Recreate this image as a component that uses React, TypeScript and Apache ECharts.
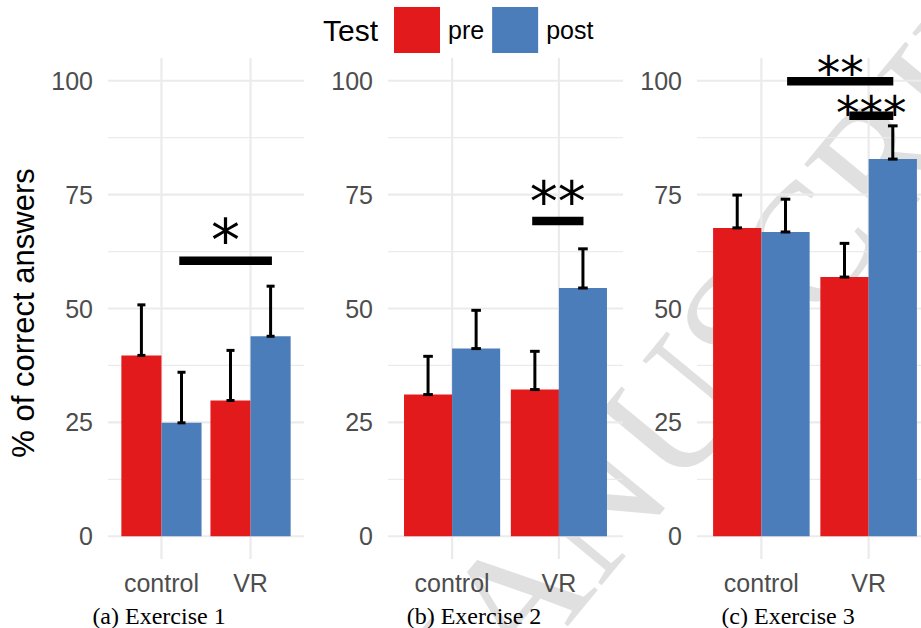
import React, { useEffect, useRef } from 'react';
import * as echarts from 'echarts';

const CATEGORIES = ['control', 'VR'];
const CAPTIONS = ['(a) Exercise 1', '(b) Exercise 2', '(c) Exercise 3'];
const Y_TICKS = [0, 25, 50, 75, 100];
const Y_MINOR = [12.5, 37.5, 62.5, 87.5];
const X_TICKS = [1, 2];
const SERIES_NAMES = ['pre', 'post'];

// mean and upper error limit, per exercise, per category
const PRE_MEAN = [[39.7, 29.8], [31.1, 32.2], [67.7, 56.9]];
const PRE_UPPER = [[50.8, 40.8], [39.5, 40.6], [74.9, 64.3]];
const POST_MEAN = [[24.9, 43.9], [41.2, 54.5], [66.8, 82.8]];
const POST_UPPER = [[36.0, 54.9], [49.6, 63.1], [74.0, 90.1]];

// significance brackets
const SIG_PANEL = [0, 1, 2, 2];
const SIG_X_START = [1.2, 1.75, 1.24, 1.82];
const SIG_X_END = [2.24, 2.23, 2.23, 2.23];
const SIG_Y = [60.5, 69.2, 99.9, 92.3];
const SIG_LABEL = ['*', '**', '**', '***'];
const SIG_LABEL_Y = [67.3, 76.0, 103.9, 95.2];

const SANS = "'Liberation Sans', Arial, Helvetica, sans-serif";
const SERIF = "'Liberation Serif', 'Times New Roman', serif";
const STAR_FONT = "'DejaVu Sans', sans-serif";
const RED = '#E31A1C';
const BLUE = '#4A7DB9';
const GRID_COLOR = '#EBEBEB';

const CANVAS_W = 921;
const PANEL_LEFT = [108, 388, 697];
const PANEL_FULL_WIDTH = [196, 235, 236];
const PANEL_TOP = 58;
const PANEL_HEIGHT = 501;
const STAR_SIZE = [58, 56, 47];
const CAPTION_X = [159, 474, 788];

const X_MIN = 0.4;
const X_SPAN = 2.2;
const DODGE = 0.45;
const CAP_HALF = 0.045;

export default function App() {
  const ref = useRef<HTMLDivElement>(null);

  useEffect(() => {
    if (!ref.current) return;
    const chart = echarts.init(ref.current, undefined, { renderer: 'svg' });

    const grids: any[] = [];
    const xAxes: any[] = [];
    const yAxes: any[] = [];
    const series: any[] = [];

    for (let p = 0; p < 3; p++) {
      // the last panel is cut by the picture's right edge
      const visibleW = Math.min(PANEL_FULL_WIDTH[p], CANVAS_W - PANEL_LEFT[p]);
      const xMax = X_MIN + (X_SPAN * visibleW) / PANEL_FULL_WIDTH[p];
      const xFullMax = X_MIN + X_SPAN;
      grids.push({ left: PANEL_LEFT[p], top: PANEL_TOP, width: visibleW, height: PANEL_HEIGHT, containLabel: false });
      xAxes.push({
        gridIndex: p,
        type: 'value',
        min: X_MIN,
        max: xMax,
        axisLine: { show: false },
        axisTick: { show: false },
        splitLine: { show: false },
        axisLabel: {
          customValues: X_TICKS,
          formatter: (v: number) => CATEGORIES[Math.round(v) - 1] ?? '',
          fontSize: 25,
          color: '#4D4D4D',
          fontFamily: SANS,
          margin: 11,
        },
      });
      yAxes.push({
        gridIndex: p,
        type: 'value',
        min: -5,
        max: 105,
        axisLine: { show: false },
        axisTick: { show: false },
        splitLine: { show: false },
        axisLabel: {
          customValues: Y_TICKS,
          fontSize: 25,
          color: '#4D4D4D',
          fontFamily: SANS,
          margin: 15,
        },
      });

      // horizontal grid lines
      series.push({
        type: 'custom',
        xAxisIndex: p,
        yAxisIndex: p,
        silent: true,
        z: 1,
        data: [...Y_TICKS.map((v) => [v, 1]), ...Y_MINOR.map((v) => [v, 0])],
        renderItem: (params: any, api: any) => {
          const v = api.value(0);
          const major = api.value(1) === 1;
          const a = api.coord([X_MIN, v]);
          const b = api.coord([Math.min(xMax, xFullMax), v]);
          return {
            type: 'line',
            shape: { x1: a[0], y1: a[1], x2: b[0], y2: b[1] },
            style: { stroke: GRID_COLOR, lineWidth: major ? 2.2 : 1.2 },
          };
        },
      });
      // vertical grid lines
      series.push({
        type: 'custom',
        xAxisIndex: p,
        yAxisIndex: p,
        silent: true,
        z: 1,
        data: X_TICKS.map((v) => [v, 0]),
        renderItem: (params: any, api: any) => {
          const v = api.value(0);
          const a = api.coord([v, -5]);
          const b = api.coord([v, 105]);
          return {
            type: 'line',
            shape: { x1: a[0], y1: a[1], x2: b[0], y2: b[1] },
            style: { stroke: GRID_COLOR, lineWidth: 2.2 },
          };
        },
      });

      const means = [PRE_MEAN[p], POST_MEAN[p]];
      const uppers = [PRE_UPPER[p], POST_UPPER[p]];
      [RED, BLUE].forEach((color, s) => {
        const off0 = s === 0 ? -DODGE : 0;
        const off1 = s === 0 ? 0 : DODGE;
        series.push({
          type: 'custom',
          name: SERIES_NAMES[s],
          xAxisIndex: p,
          yAxisIndex: p,
          z: 2,
          itemStyle: { color },
          data: means[s].map((m, i) => [i + 1, m]),
          renderItem: (params: any, api: any) => {
            const x = api.value(0);
            const y = api.value(1);
            const a = api.coord([x + off0, y]);
            const b = api.coord([x + off1, 0]);
            return {
              type: 'rect',
              shape: { x: a[0], y: a[1], width: b[0] - a[0], height: b[1] - a[1] },
              style: { fill: color },
            };
          },
        });
      });

      // error bars
      const errData: number[][] = [];
      [0, 1].forEach((s) => {
        means[s].forEach((m, i) => {
          errData.push([i + 1 + (s === 0 ? -DODGE / 2 : DODGE / 2), m, uppers[s][i]]);
        });
      });
      series.push({
        type: 'custom',
        xAxisIndex: p,
        yAxisIndex: p,
        silent: true,
        z: 3,
        data: errData,
        renderItem: (params: any, api: any) => {
          const x = api.value(0);
          const lo = api.value(1);
          const hi = api.value(2);
          const pLo = api.coord([x, lo]);
          const pHi = api.coord([x, hi]);
          const l0 = api.coord([x - CAP_HALF, lo]);
          const l1 = api.coord([x + CAP_HALF, lo]);
          const h0 = api.coord([x - CAP_HALF, hi]);
          const h1 = api.coord([x + CAP_HALF, hi]);
          const st = { stroke: '#000', lineWidth: 3 };
          return {
            type: 'group',
            children: [
              { type: 'line', shape: { x1: pLo[0], y1: pLo[1], x2: pHi[0], y2: pHi[1] }, style: st },
              { type: 'line', shape: { x1: l0[0], y1: l0[1], x2: l1[0], y2: l1[1] }, style: st },
              { type: 'line', shape: { x1: h0[0], y1: h0[1], x2: h1[0], y2: h1[1] }, style: st },
            ],
          };
        },
      });

      // significance brackets
      const sigData: number[][] = [];
      SIG_PANEL.forEach((sp, k) => {
        if (sp === p) sigData.push([SIG_X_START[k], SIG_Y[k], SIG_X_END[k], SIG_LABEL_Y[k], k]);
      });
      const starSize = STAR_SIZE[p];
      series.push({
        type: 'custom',
        xAxisIndex: p,
        yAxisIndex: p,
        silent: true,
        z: 4,
        data: sigData,
        renderItem: (params: any, api: any) => {
          const xs = api.value(0);
          const y = api.value(1);
          const xe = api.value(2);
          const ly = api.value(3);
          const k = api.value(4);
          const a = api.coord([xs, y]);
          const b = api.coord([xe, y]);
          const c = api.coord([(xs + xe) / 2, ly]);
          const thick = 8.5;
          return {
            type: 'group',
            children: [
              { type: 'rect', shape: { x: a[0], y: a[1] - thick / 2, width: b[0] - a[0], height: thick }, style: { fill: '#000' } },
              {
                type: 'text',
                x: c[0],
                y: c[1] + 0.2 * starSize,
                style: {
                  text: SIG_LABEL[k],
                  fontSize: starSize,
                  lineHeight: Math.round(starSize * 0.72),
                  fontFamily: STAR_FONT,
                  fill: '#000',
                  align: 'center',
                  verticalAlign: 'middle',
                },
              },
            ],
          };
        },
      });
    }

    const graphics: any[] = [
      {
        type: 'text',
        z: 0,
        silent: true,
        x: 380,
        y: 764,
        rotation: (50.5 * Math.PI) / 180,
        style: {
          text: 'MANUSCRIPT',
          fontSize: 170,
          fontFamily: SERIF,
          fill: '#E0E0E0',
          align: 'left',
          verticalAlign: 'middle',
        },
      },
      {
        type: 'text',
        x: 23,
        y: 313,
        rotation: Math.PI / 2,
        style: {
          text: '% of correct answers',
          fontSize: 31,
          fontFamily: SANS,
          fill: '#000',
          align: 'center',
          verticalAlign: 'middle',
        },
      },
      {
        type: 'text',
        x: 323,
        y: 30,
        style: { text: 'Test', fontSize: 30, fontFamily: SANS, fill: '#000', align: 'left', verticalAlign: 'middle' },
      },
      ...CAPTIONS.map((c, i) => ({
        type: 'text',
        x: CAPTION_X[i],
        y: 616,
        style: {
          text: c,
          fontSize: 24,
          lineHeight: 20,
          fontFamily: SERIF,
          fill: '#000',
          align: 'center',
          verticalAlign: 'middle',
        },
      })),
    ];

    chart.setOption({
      animation: false,
      backgroundColor: '#fff',
      grid: grids,
      xAxis: xAxes,
      yAxis: yAxes,
      legend: {
        data: SERIES_NAMES,
        left: 394,
        top: 7,
        padding: 0,
        itemWidth: 46,
        itemHeight: 46,
        itemGap: 8,
        icon: 'rect',
        selectedMode: false,
        textStyle: { fontSize: 25, fontFamily: SANS, color: '#000', padding: [0, 0, 0, 3] },
      },
      graphic: graphics,
      series,
    });

    return () => chart.dispose();
  }, []);

  return <div ref={ref} style={{ position: 'fixed', left: 0, top: 0, width: 921, height: 628 }} />;
}
